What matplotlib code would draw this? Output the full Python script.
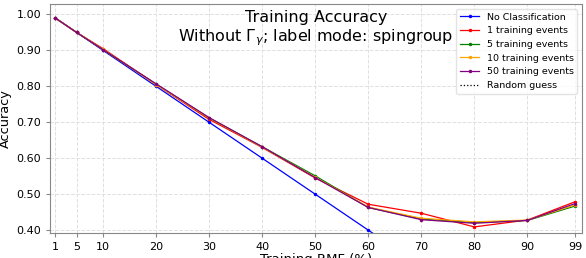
import matplotlib
matplotlib.use("Agg")
import matplotlib.pyplot as plt
from matplotlib.ticker import FormatStrFormatter

rmf = [1, 5, 10, 20, 30, 40, 50, 60, 70, 80, 90, 99]
no_class = [0.99, 0.95, 0.90, 0.80, 0.70, 0.60, 0.50, 0.40, 0.30, 0.20, 0.10, 0.01]
ev1 = [0.99, 0.95, 0.905, 0.805, 0.708, 0.630, 0.545, 0.472, 0.447, 0.409, 0.428, 0.479]
ev5 = [0.99, 0.95, 0.902, 0.806, 0.712, 0.632, 0.551, 0.463, 0.431, 0.421, 0.427, 0.467]
ev10 = [0.99, 0.95, 0.903, 0.805, 0.712, 0.631, 0.547, 0.464, 0.433, 0.423, 0.428, 0.470]
ev50 = [0.99, 0.95, 0.902, 0.807, 0.713, 0.632, 0.546, 0.463, 0.429, 0.419, 0.427, 0.474]
random_guess = [0.25] * len(rmf)

series = [
    ("No Classification", no_class, "blue"),
    ("1 training events", ev1, "red"),
    ("5 training events", ev5, "green"),
    ("10 training events", ev10, "orange"),
    ("50 training events", ev50, "purple"),
]
yticks = [0.40, 0.50, 0.60, 0.70, 0.80, 0.90, 1.00]

fig = plt.figure(figsize=(5.86, 2.58), dpi=100)
ax = fig.add_axes([50/586, 1-233/258, 532/586, 229/258])

for name, vals, col in series:
    ax.plot(rmf, vals, color=col, marker='o', markersize=1.5, linewidth=0.9, label=name)
ax.plot(rmf, random_guess, color='black', linestyle=':', linewidth=0.9, label='Random guess')

ax.set_xlim(0, 100.3)
ax.set_ylim(0.392, 1.029)
ax.set_xticks(rmf)
ax.set_yticks(yticks)
ax.yaxis.set_major_formatter(FormatStrFormatter('%.2f'))
ax.tick_params(labelsize=8, color='#888888', length=3)
for s in ax.spines.values():
    s.set_color('#888888')
ax.grid(True, linestyle='--', color='#e0e0e0', linewidth=0.7)
ax.set_ylabel('Accuracy', fontsize=9.3, labelpad=3)
ax.set_xlabel('Training RMF (%)', fontsize=9.5, labelpad=1)

ax.text(0.5, 0.975, 'Training Accuracy\nWithout $\\Gamma_\\gamma$; label mode: spingroup',
        transform=ax.transAxes, ha='center', va='top', multialignment='center',
        fontsize=11.5)

leg = ax.legend(loc='upper right', fontsize=6.8, framealpha=0.8)
leg.get_frame().set_edgecolor('#dddddd')

fig.savefig('out.png', dpi=100)
